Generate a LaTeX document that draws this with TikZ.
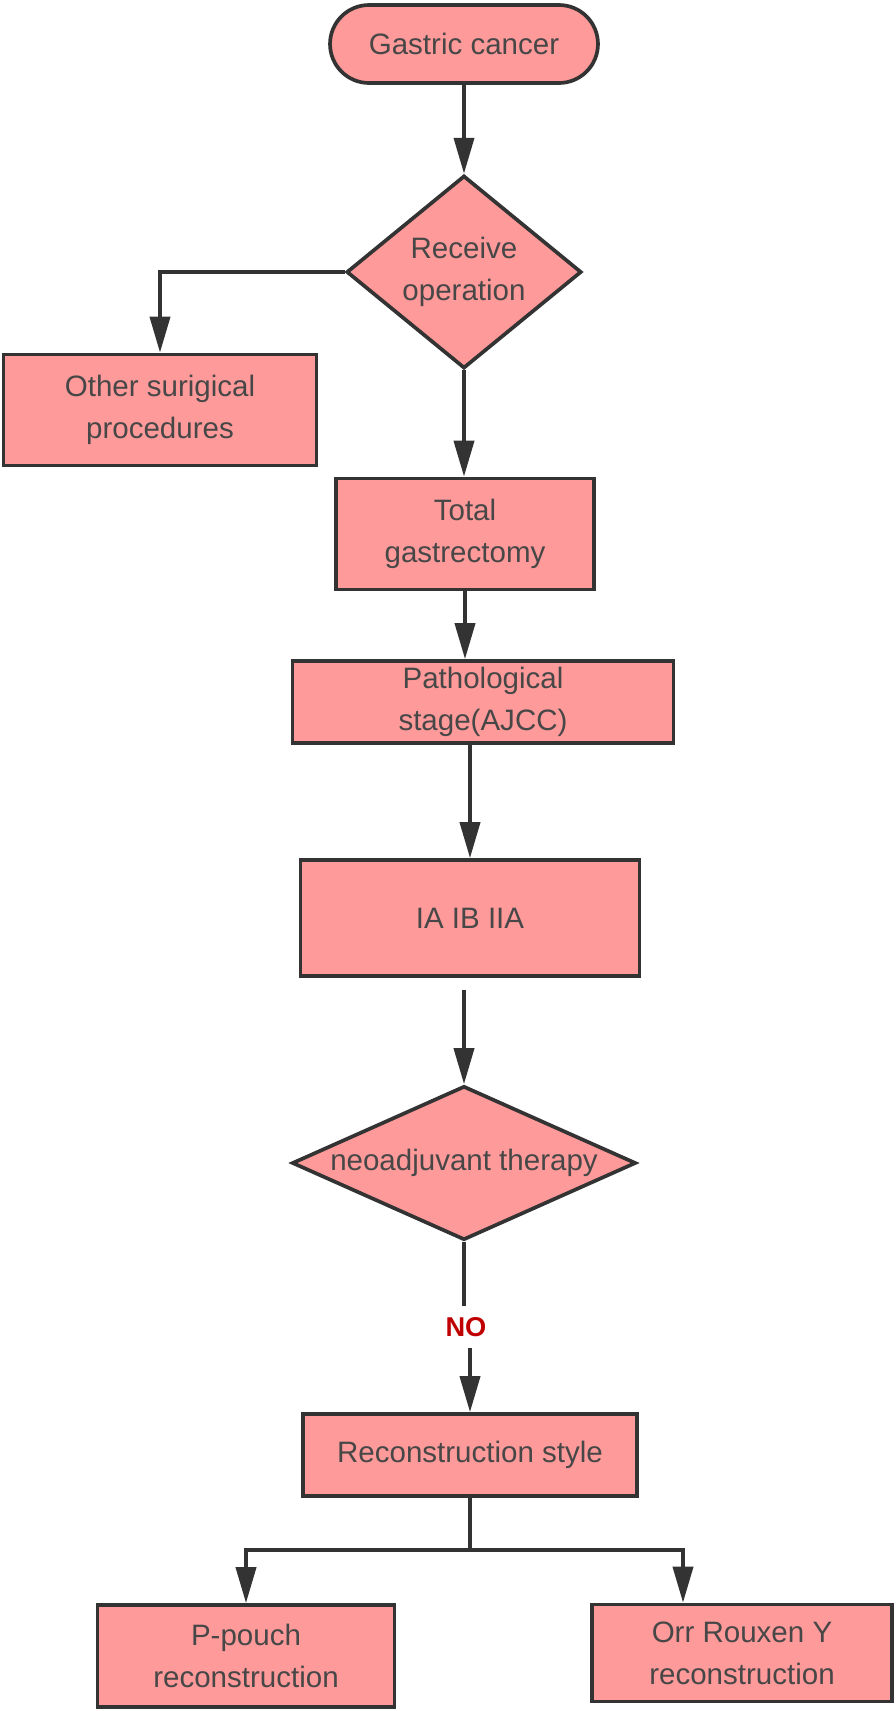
\documentclass[tikz,border=0pt]{standalone}
\usepackage{fontspec}
\setmainfont{Liberation Sans}
\usepackage{xcolor}
\usepackage{tikz}
\usetikzlibrary{shapes}
\usetikzlibrary{arrows.meta}
\usetikzlibrary{calc}
\definecolor{boxpink}{HTML}{FF9A9A}
\definecolor{boxline}{HTML}{333333}
\definecolor{nored}{HTML}{C00000}
\tikzstyle{es}=[rectangle,draw=boxline,fill=boxpink,line width=2.1pt,text=boxline!90,align=center,inner sep=0pt,font=\fontsize{16.8}{24}\selectfont]
\tikzstyle{term}=[es,rounded corners=0.78cm]
\tikzstyle{dec}=[es,diamond]
\tikzstyle{line}=[draw=boxline,line width=2.2pt]
\tikzstyle{arr}=[line,-{Triangle[length=0.72cm,width=0.4cm]}]

\begin{document}
\begin{tikzpicture}[x=0.02cm,y=-0.02cm]
\useasboundingbox (0,0) rectangle (896,1711);

%start
\node[term,minimum width=5.36cm,minimum height=1.56cm] (start) at (464,44) {Gastric cancer};

%operation?
\node[dec,aspect=1,minimum width=4.7cm,minimum height=3.8cm] (recv) at (464,272) {Receive\\operation};
\node[es,minimum width=6.26cm,minimum height=2.22cm] (other) at (160,410) {Other surigical\\procedures};
\node[es,minimum width=5.16cm,minimum height=2.22cm] (total) at (465,534) {Total\\gastrectomy};

%staging
\node[es,minimum width=7.62cm,minimum height=1.64cm] (patho) at (483,702) {Pathological\\stage(AJCC)};
\node[es,minimum width=6.78cm,minimum height=2.32cm] (stage) at (470,918) {IA IB IIA};

%neoadjuvant?
\node[dec,aspect=2.3,minimum width=6.88cm,minimum height=3.08cm] (neo) at (464,1163) {neoadjuvant therapy};
\node[text=nored,font=\fontsize{15.5}{18}\bfseries\selectfont,inner xsep=2pt,inner ysep=6.5pt] (no) at (466,1327) {NO};

%reconstruction
\node[es,minimum width=6.68cm,minimum height=1.64cm] (recon) at (470,1455) {Reconstruction style};
\node[es,minimum width=5.94cm,minimum height=2.04cm] (pouch) at (246,1656) {P-pouch\\reconstruction};
\node[es,minimum width=6.0cm,minimum height=1.94cm] (orr) at (742,1653) {Orr Rouxen Y\\reconstruction};

\draw[arr] (start) -- (recv);
\draw[arr] (recv.west) -| (other.north);
\foreach \from/\to in {recv/total,total/patho} {
  \draw[arr] (\from.south) -- (\from.south |- \to.north);
}
\draw[arr] (stage.north |- patho.south) -- (stage.north);
\draw[arr,shorten <=0.24cm] (stage.south -| neo.north) -- (neo.north);
\draw[line] (neo.south) -- (neo.south |- no.north);
\draw[arr] (no.south -| recon.north) -- (recon.north);

\coordinate (fork) at (470,1550);
\draw[line] (recon.south) -- (fork);
\draw[arr] (fork) -| (pouch.north);
\draw[arr] (fork) -| ([xshift=-1.18cm]orr.north);
\end{tikzpicture}
\end{document}
